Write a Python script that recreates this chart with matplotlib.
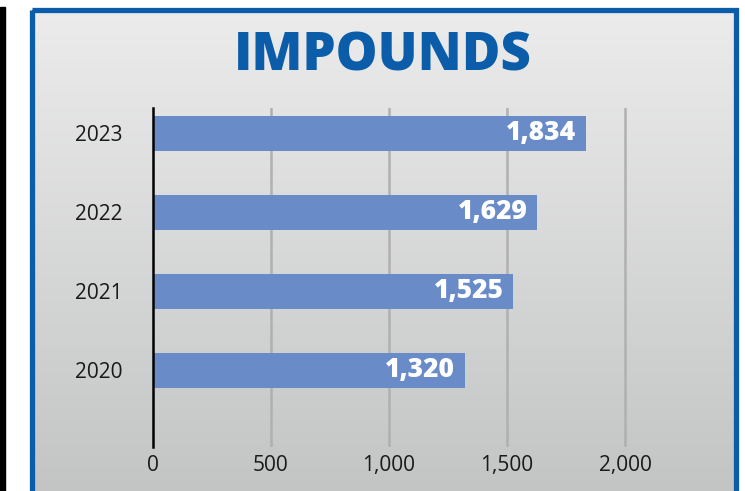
import numpy as np
import matplotlib
matplotlib.use("Agg")
import matplotlib.pyplot as plt
from matplotlib.patches import Rectangle
from matplotlib.ticker import FuncFormatter

years = ["2020", "2021", "2022", "2023"]
impounds = [1320, 1525, 1629, 1834]
xticks = [0, 500, 1000, 1500, 2000]
title = "IMPOUNDS"

W, H = 745, 491
fig = plt.figure(figsize=(W / 100, H / 100), dpi=100)
fig.patch.set_facecolor("white")

# background / frame
bg = fig.add_axes([0, 0, 1, 1])
bg.set_xlim(0, W)
bg.set_ylim(H, 0)
bg.axis("off")
grad = np.linspace(0, 1, 256).reshape(-1, 1)
top = np.array([0.925, 0.925, 0.925])
bot = np.array([0.765, 0.77, 0.77])
img = top + (bot - top) * grad[..., None]
bg.imshow(img, extent=[32, 735, H, 10], aspect="auto", zorder=0)
blue = "#0b5ca9"
bg.add_patch(Rectangle((31.5, 9.5), 704, H + 10, fill=False, edgecolor=blue, linewidth=3.8, zorder=2))
bg.add_patch(Rectangle((0, 7), 4.5, H, color="black", zorder=2))

fig.text(383 / W, 1 - 57 / H, title, ha="center", va="center", color=blue,
         fontsize=38, fontweight="heavy", family="Open Sans")

xmax = 2100
ax = fig.add_axes([153 / W, 44 / H, 472 * xmax / 2000 / W, 339 / H])
ax.set_facecolor("none")
ypos = np.arange(len(years))
bars = ax.barh(ypos, impounds, height=0.45, color="#698bc8", zorder=3)
ax.set_xlim(0, xmax)
ax.set_ylim(-0.97, 3.32)
ax.set_xticks(xticks)
ax.xaxis.set_major_formatter(FuncFormatter(lambda v, p: f"{int(v):,}"))
ax.set_yticks(ypos)
ax.set_yticklabels(years)
for s in ["top", "right", "bottom"]:
    ax.spines[s].set_visible(False)
ax.spines["left"].set_color("black")
ax.spines["left"].set_linewidth(1.8)
ax.spines["left"].set_zorder(4)
ax.tick_params(axis="both", length=0, labelsize=15, labelcolor="#1a1a1a")
ax.tick_params(axis="x", pad=6)
ax.tick_params(axis="y", pad=22)
for lab in ax.get_xticklabels() + ax.get_yticklabels():
    lab.set_family("Open Sans")
for xv in xticks[1:]:
    ax.axvline(xv, color="#b0b0b0", linewidth=1.8, zorder=1)

for b, v in zip(bars, impounds):
    ax.text(b.get_width() - 40, b.get_y() + b.get_height() / 2, f"{v:,}",
            ha="right", va="center", color="white", fontsize=19,
            fontweight="heavy", family="Open Sans", zorder=5)

fig.savefig("out.png", dpi=100)
